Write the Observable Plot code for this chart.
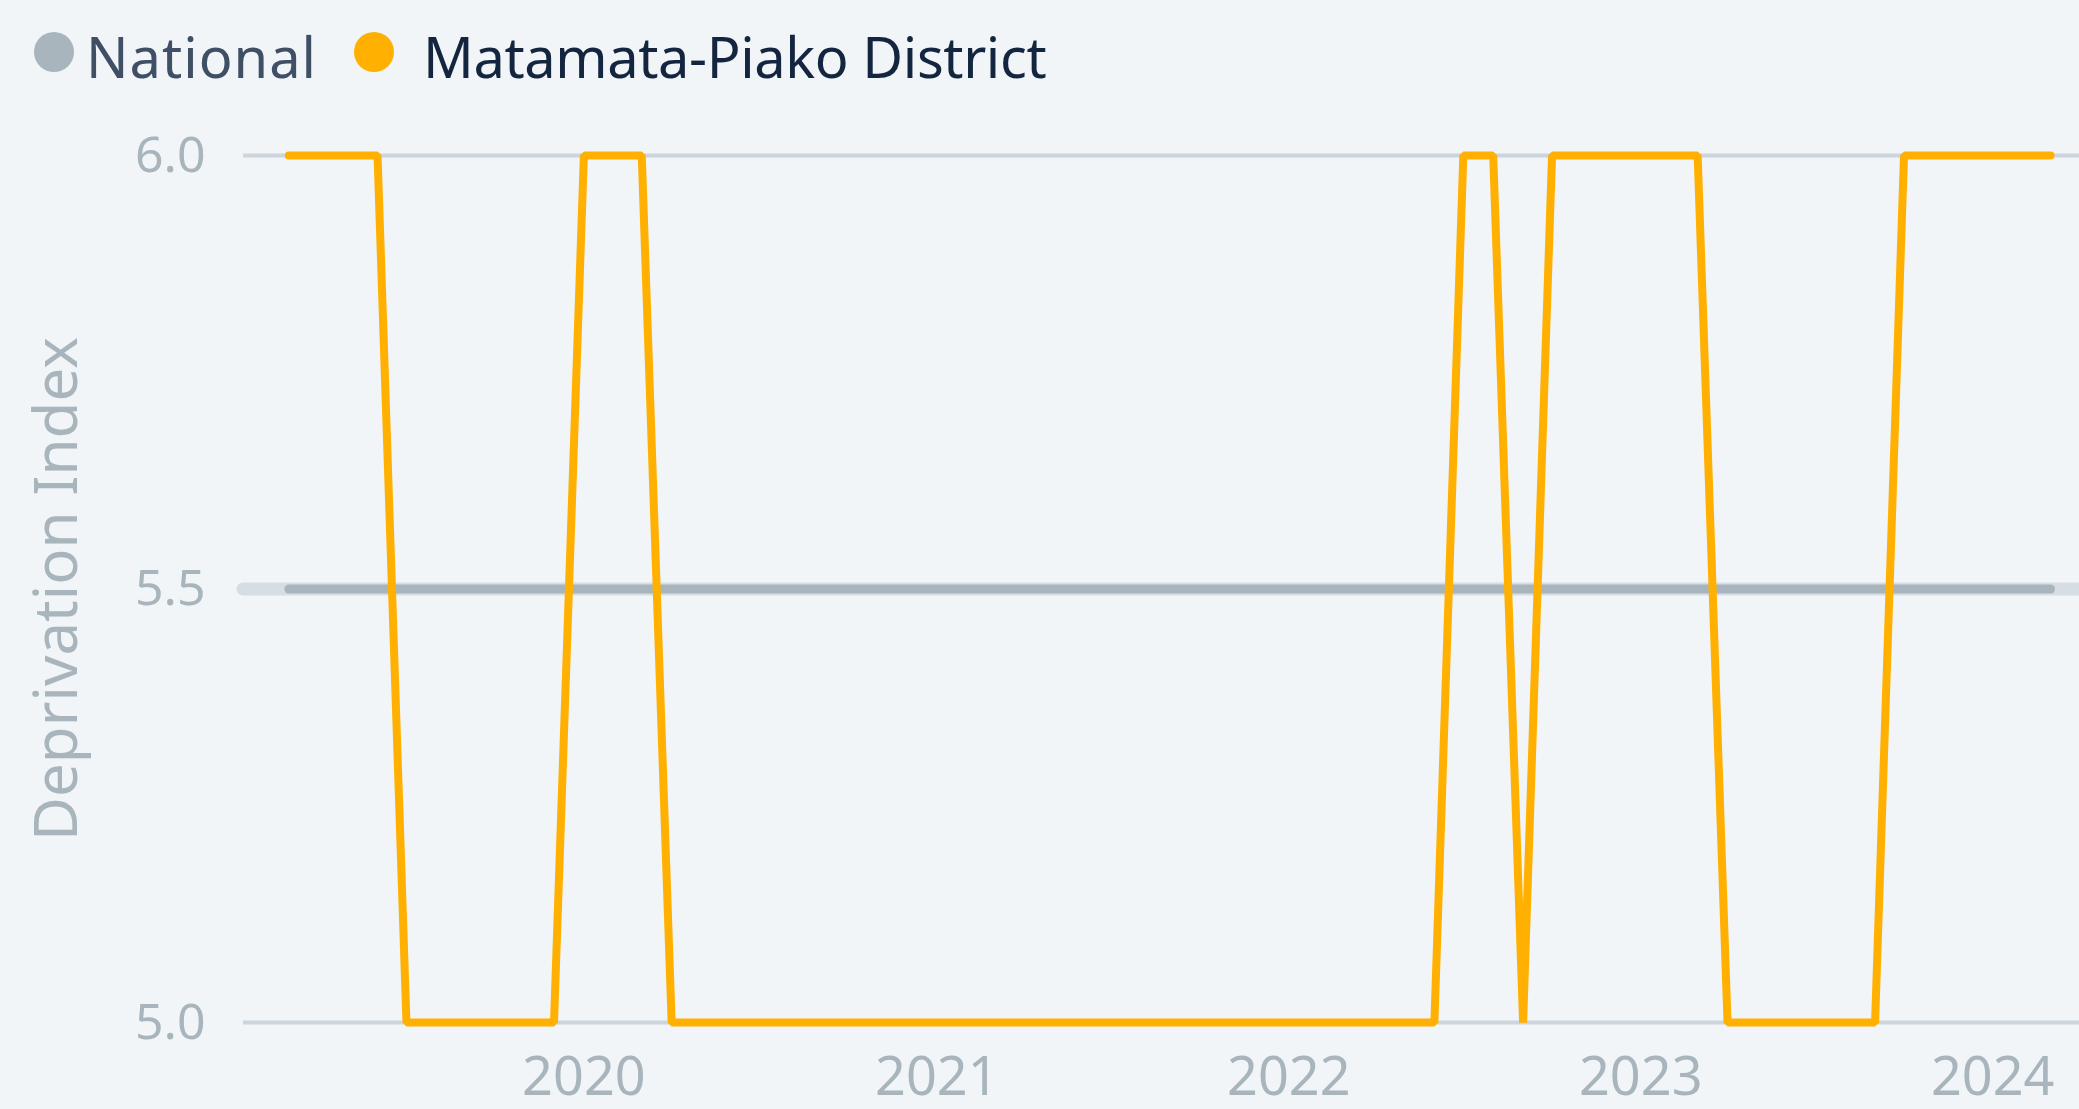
<!DOCTYPE html>
<html><head><meta charset="utf-8">
<script src="https://cdn.jsdelivr.net/npm/d3@7"></script>
<script src="https://cdn.jsdelivr.net/npm/@observablehq/plot@0.6"></script>
<style>
html,body{margin:0;padding:0;background:#f1f5f8;}
body{width:2079px;height:1109px;overflow:hidden;position:relative;font-family:"Noto Sans",sans-serif;}
#legend{position:relative;height:105px;}
.sw{position:absolute;width:40px;height:40px;border-radius:50%;top:32px;}
.lt{position:absolute;top:28px;font-size:56px;line-height:56px;white-space:nowrap;}
#chart svg{display:block;}
</style></head><body>
<div id="legend"></div>
<div id="chart"></div>
<script>
const months = [
  "2019-03","2019-04","2019-05","2019-06","2019-07","2019-08","2019-09","2019-10","2019-11","2019-12",
  "2020-01","2020-02","2020-03","2020-04","2020-05","2020-06","2020-07","2020-08","2020-09","2020-10","2020-11","2020-12",
  "2021-01","2021-02","2021-03","2021-04","2021-05","2021-06","2021-07","2021-08","2021-09","2021-10","2021-11","2021-12",
  "2022-01","2022-02","2022-03","2022-04","2022-05","2022-06","2022-07","2022-08","2022-09","2022-10","2022-11","2022-12",
  "2023-01","2023-02","2023-03","2023-04","2023-05","2023-06","2023-07","2023-08","2023-09","2023-10","2023-11","2023-12",
  "2024-01","2024-02","2024-03"
];
const nationalValues = [
  5.5,5.5,5.5,5.5,5.5,5.5,5.5,5.5,5.5,5.5,
  5.5,5.5,5.5,5.5,5.5,5.5,5.5,5.5,5.5,5.5,5.5,5.5,
  5.5,5.5,5.5,5.5,5.5,5.5,5.5,5.5,5.5,5.5,5.5,5.5,
  5.5,5.5,5.5,5.5,5.5,5.5,5.5,5.5,5.5,5.5,5.5,5.5,
  5.5,5.5,5.5,5.5,5.5,5.5,5.5,5.5,5.5,5.5,5.5,5.5,
  5.5,5.5,5.5
];
const districtValues = [
  6,6,6,6,5,5,5,5,5,5,
  6,6,6,5,5,5,5,5,5,5,5,5,
  5,5,5,5,5,5,5,5,5,5,5,5,
  5,5,5,5,5,5,6,6,5,6,6,6,
  6,6,6,5,5,5,5,5,5,6,6,6,
  6,6,6
];
const seriesNames = ["National", "Matamata-Piako District"];
const seriesColors = ["#a8b5bd", "#ffb000"];
const legendTextColors = ["#3e4f66", "#14263f"];
const yTicks = [5, 5.5, 6];
const xTickYears = [2020, 2021, 2022, 2023, 2024];
const yTitle = "Deprivation Index";

// legend
const legend = document.getElementById("legend");
const swLeft = [34, 354];
const txLeft = [86, 423];
const txSpacing = ["1px", "-0.4px"];
seriesNames.forEach((name, i) => {
  const sw = document.createElement("div");
  sw.className = "sw";
  sw.style.left = swLeft[i] + "px";
  sw.style.background = seriesColors[i];
  legend.appendChild(sw);
  const t = document.createElement("div");
  t.className = "lt";
  t.style.left = txLeft[i] + "px";
  t.style.color = legendTextColors[i];
  t.style.letterSpacing = txSpacing[i];
  t.textContent = name;
  legend.appendChild(t);
});

const parse = d3.utcParse("%Y-%m");
const nat = months.map((m, i) => ({date: parse(m), value: nationalValues[i]}));
const dis = months.map((m, i) => ({date: parse(m), value: districtValues[i]}));

const chart = Plot.plot({
  width: 2079, height: 1004,
  marginLeft: 243, marginRight: 0, marginTop: 50, marginBottom: 87,
  style: {background: "transparent", fontFamily: "Noto Sans, sans-serif", overflow: "visible"},
  x: {type: "utc", domain: [new Date(Date.UTC(2019, 0, 13)), new Date(Date.UTC(2024, 2, 31))]},
  y: {domain: [5, 6]},
  marks: [
    Plot.ruleY([5, 6], {stroke: "#ccd5db", strokeWidth: 4}),
    Plot.ruleY([5.5], {stroke: "#d6dee3", strokeWidth: 13, strokeLinecap: "round"}),
    Plot.line(nat, {x: "date", y: "value", stroke: seriesColors[0], strokeWidth: 9, strokeLinecap: "round"}),
    Plot.line(dis, {x: "date", y: "value", stroke: seriesColors[1], strokeWidth: 8, strokeLinejoin: "miter", strokeLinecap: "round"}),
    Plot.axisY(yTicks, {tickSize: 0, tickPadding: 38, tickFormat: d3.format(".1f"), fontSize: 50, fill: "#a8b5bd", label: null}),
    Plot.axisX(xTickYears.map(y => new Date(Date.UTC(y, 0, 1))), {tickSize: 0, tickPadding: 34, tickFormat: d3.utcFormat("%Y"), fontSize: 54, fill: "#a8b5bd", label: null}),
    Plot.text([yTitle], {frameAnchor: "left", textAnchor: "middle", dx: -186, rotate: -90, fontSize: 60, fill: "#a8b5bd"})
  ]
});
document.getElementById("chart").appendChild(chart);
</script>
</body></html>
